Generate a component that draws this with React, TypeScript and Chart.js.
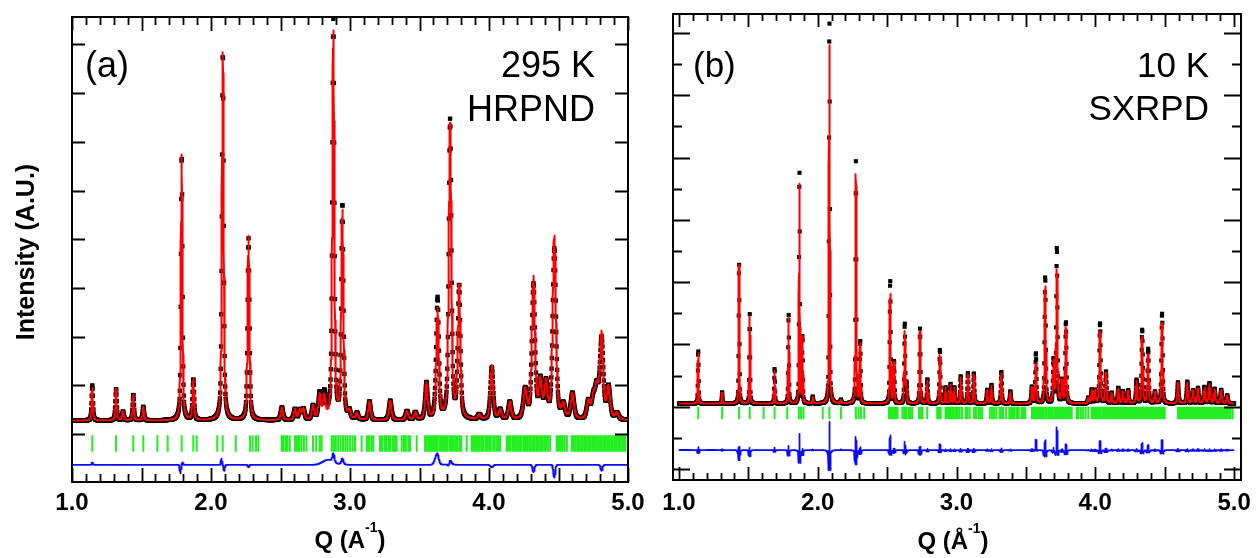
import React, { useEffect, useRef } from "react";
import { Chart, registerables } from "chart.js";

Chart.register(...registerables);

const FONT = '"Liberation Sans", Arial, Helvetica, sans-serif';

// x-axis tick labels (Q, 1/Å) shared by both panels
const X_LABELS = [1, 2, 3, 4, 5];

// ---------------- Panel (a): 295 K, HRPND ----------------
const A_PEAK_Q = [1.146, 1.317, 1.367, 1.441, 1.513, 1.789, 1.873, 2.085, 2.270, 2.510, 2.604, 2.640, 2.665, 2.734, 2.782, 2.815, 2.880, 2.945, 2.995, 3.050, 3.140, 3.290, 3.410, 3.470, 3.550, 3.630, 3.720, 3.785, 3.930, 4.020, 4.080, 4.150, 4.260, 4.320, 4.370, 4.410, 4.470, 4.535, 4.600, 4.715, 4.750, 4.775, 4.810, 4.860, 4.920];
const A_CALC_H = [0.67, 0.65, 0.18, 0.53, 0.28, 5.45, 0.83, 7.55, 3.78, 0.26, 0.22, 0.2, 0.22, 0.28, 0.5, 0.45, 7.95, 4.25, 0.15, 0.13, 0.38, 0.4, 0.18, 0.15, 0.75, 2.25, 6.05, 2.7, 0.1, 1.12, 0.2, 0.36, 0.6, 2.9, 0.75, 0.7, 3.75, 0.28, 0.53, 0.36, 0.38, 0.6, 1.75, 0.65, 0.13];
const A_OBS_H = [0.67, 0.65, 0.18, 0.53, 0.28, 5.45, 0.83, 7.55, 3.78, 0.26, 0.22, 0.2, 0.22, 0.28, 0.5, 0.45, 8.13, 4.38, 0.15, 0.13, 0.38, 0.4, 0.18, 0.15, 0.75, 2.38, 6.15, 2.7, 0.1, 1.12, 0.2, 0.36, 0.6, 2.9, 0.75, 0.7, 3.75, 0.28, 0.53, 0.36, 0.38, 0.6, 1.75, 0.65, 0.13];
const A_FWHM = [0.012, 0.012, 0.014, 0.012, 0.013, 0.013, 0.014, 0.015, 0.016, 0.02, 0.02, 0.02, 0.02, 0.02, 0.022, 0.022, 0.017, 0.018, 0.02, 0.02, 0.02, 0.022, 0.022, 0.022, 0.022, 0.022, 0.022, 0.022, 0.025, 0.024, 0.025, 0.025, 0.03, 0.026, 0.026, 0.026, 0.027, 0.028, 0.028, 0.028, 0.028, 0.03, 0.028, 0.028, 0.03];
const A_RES_Q = [1.146, 1.78, 1.795, 2.075, 2.095, 2.27, 2.84, 3.62, 3.71, 4.02, 4.32, 4.47, 4.81];
const A_RES_AMP = [0.05, -0.17, 0.05, 0.13, -0.12, -0.05, 0.1, 0.13, -0.06, -0.05, -0.15, -0.26, -0.12];
const A_RES_W = [0.01, 0.01, 0.01, 0.01, 0.01, 0.01, 0.09, 0.03, 0.015, 0.02, 0.015, 0.015, 0.015];
const A_REFL = [
  1.146, 1.317, 1.441, 1.513, 1.614, 1.688, 1.789, 1.873, 1.897, 2.045, 2.084, 2.178, 2.281, 2.300, 2.324, 2.341,
  2.509, 2.521, 2.537, 2.550, 2.567,
  2.604, 2.619, 2.633, 2.650, 2.668, 2.687,
  2.734, 2.757, 2.781, 2.796,
  2.868, 2.883, 2.898, 2.915, 2.932, 2.950, 2.967, 2.983, 3.001, 3.019, 3.036,
  3.084, 3.121, 3.136, 3.153, 3.168,
  3.216, 3.230, 3.247, 3.261, 3.277, 3.290, 3.307, 3.321, 3.336,
  3.372, 3.388, 3.402, 3.419, 3.432,
  3.480,
  3.540, 3.552, 3.567, 3.580, 3.593, 3.607, 3.621, 3.632, 3.648, 3.662, 3.675, 3.689, 3.701, 3.717, 3.731, 3.744, 3.759, 3.771, 3.787, 3.800,
  3.840,
  3.875, 3.889, 3.902, 3.916, 3.929, 3.944, 3.957, 3.973, 3.986, 4.001, 4.013, 4.030, 4.042, 4.058, 4.069, 4.080,
  4.127, 4.141, 4.152, 4.168, 4.180, 4.195, 4.207, 4.222, 4.233, 4.249, 4.262, 4.274, 4.289, 4.301, 4.316, 4.328, 4.343, 4.355, 4.370, 4.382, 4.397, 4.409, 4.424, 4.440,
  4.487, 4.501, 4.515, 4.529, 4.544, 4.560,
  4.595, 4.609, 4.621, 4.636, 4.648, 4.663, 4.675, 4.690, 4.702, 4.717, 4.729, 4.744, 4.756, 4.771, 4.783, 4.798, 4.810, 4.825, 4.837, 4.852, 4.864, 4.879, 4.891, 4.906, 4.918, 4.933, 4.945, 4.960, 4.972, 4.982,
];
const A_Y_TICKS = [1, 2, 3, 4, 5, 6, 7, 8, 9];

// ---------------- Panel (b): 10 K, SXRPD ----------------
const B_PEAK_Q = [1.139, 1.311, 1.433, 1.510, 1.689, 1.790, 1.868, 1.890, 1.964, 2.084, 2.167, 2.275, 2.306, 2.522, 2.550, 2.627, 2.640, 2.737, 2.790, 2.880, 2.921, 2.957, 2.985, 3.030, 3.082, 3.125, 3.221, 3.252, 3.323, 3.388, 3.543, 3.572, 3.639, 3.699, 3.723, 3.760, 3.788, 3.950, 3.974, 3.998, 4.034, 4.077, 4.118, 4.166, 4.200, 4.237, 4.297, 4.338, 4.381, 4.430, 4.481, 4.596, 4.663, 4.704, 4.740, 4.787, 4.823, 4.860, 4.907, 4.950];
const B_CALC_H = [1.62, 0.35, 4.45, 2.8, 1.05, 2.77, 7.03, 2.1, 0.2, 11.5, 0.1, 7.35, 1.9, 3.5, 1.3, 2.3, 0.6, 2.3, 0.74, 1.55, 0.5, 0.6, 0.5, 0.84, 0.93, 0.93, 0.42, 0.57, 0.97, 0.37, 0.5, 1.27, 3.75, 1.3, 4.27, 0.7, 2.42, 0.17, 0.42, 0.4, 2.29, 0.97, 0.32, 0.47, 0.37, 0.4, 0.71, 2.14, 1.57, 0.35, 2.58, 0.65, 0.67, 0.4, 0.47, 0.5, 0.62, 0.45, 0.42, 0.25];
const B_OBS_H = [1.71, 0.37, 4.55, 2.87, 1.13, 2.9, 7.55, 2.15, 0.22, 12.4, 0.12, 7.77, 2.0, 3.97, 1.35, 2.57, 0.62, 2.4, 0.78, 1.74, 0.52, 0.63, 0.52, 0.88, 0.97, 0.97, 0.44, 0.6, 1.02, 0.39, 0.53, 1.61, 4.07, 1.38, 5.0, 0.73, 2.61, 0.18, 0.44, 0.42, 2.58, 1.02, 0.34, 0.5, 0.39, 0.42, 0.75, 2.37, 1.74, 0.37, 2.9, 0.68, 0.7, 0.42, 0.5, 0.53, 0.65, 0.47, 0.44, 0.26];
const B_FWHM = [0.007, 0.007, 0.007, 0.007, 0.007, 0.007, 0.007, 0.007, 0.008, 0.008, 0.008, 0.008, 0.008, 0.009, 0.009, 0.009, 0.009, 0.009, 0.009, 0.009, 0.009, 0.009, 0.009, 0.01, 0.01, 0.01, 0.01, 0.01, 0.01, 0.01, 0.011, 0.011, 0.011, 0.011, 0.011, 0.011, 0.011, 0.011, 0.011, 0.011, 0.012, 0.012, 0.012, 0.012, 0.012, 0.012, 0.012, 0.012, 0.012, 0.012, 0.012, 0.013, 0.013, 0.013, 0.013, 0.013, 0.013, 0.013, 0.013, 0.013];
const B_RES_Q: number[] = [];
const B_RES_AMP: number[] = [];
const B_RES_W: number[] = [];
const B_REFL = [
  1.139, 1.311, 1.433, 1.510, 1.610, 1.689, 1.780, 1.864, 1.880, 1.897, 2.036, 2.084, 2.167, 2.275, 2.294, 2.311, 2.335,
  2.514, 2.527, 2.538, 2.552, 2.562, 2.575,
  2.610, 2.625, 2.637, 2.653, 2.667, 2.682,
  2.730, 2.741, 2.755, 2.789,
  2.861, 2.872, 2.886,
  2.921, 2.934, 2.945, 2.958, 2.969,
  2.981, 2.996, 3.008, 3.023, 3.040,
  3.066, 3.079, 3.095, 3.125, 3.140, 3.157, 3.171, 3.186,
  3.240, 3.256, 3.271, 3.287, 3.310, 3.322, 3.335, 3.358,
  3.380, 3.393, 3.407, 3.420, 3.436, 3.449, 3.469, 3.482, 3.496,
  3.544, 3.557, 3.571, 3.583, 3.597, 3.611, 3.624, 3.639, 3.651, 3.666, 3.680, 3.693, 3.708, 3.721, 3.735, 3.749, 3.762, 3.776, 3.790, 3.803, 3.817, 3.830,
  3.866, 3.880, 3.896, 3.912, 3.931, 3.950,
  3.974, 3.987, 4.001, 4.014, 4.028, 4.040, 4.055, 4.068, 4.082, 4.095, 4.109, 4.122, 4.136, 4.149, 4.163, 4.176, 4.190, 4.203, 4.217, 4.230, 4.244, 4.257, 4.271, 4.284, 4.298, 4.311, 4.325, 4.338, 4.352, 4.365, 4.379, 4.392, 4.406, 4.419, 4.433, 4.446, 4.460, 4.473, 4.487, 4.500,
  4.596, 4.609, 4.623, 4.636, 4.650, 4.663, 4.677, 4.690, 4.704, 4.717, 4.731, 4.744, 4.758, 4.771, 4.785, 4.798, 4.812, 4.825, 4.839, 4.852, 4.866, 4.879, 4.893, 4.906, 4.920, 4.933, 4.947, 4.960, 4.974, 4.990,
];
const B_Y_TICKS = [0, 1, 2, 3, 4, 5, 6, 7, 8, 9, 10, 11, 12, 13, 14];

type PanelSpec = {
  peakQ: number[]; calcH: number[]; obsH: number[]; fwhm: number[];
  resQ: number[]; resAmp: number[]; resW: number[]; refl: number[];
  eta: number; obsWidthRatio: number; bg: number; diffOffset: number;
  obsStep: number; calcStep: number; reflLo: number; reflHi: number; obsRadius: number;
};

const PANEL_A: PanelSpec = {
  peakQ: A_PEAK_Q, calcH: A_CALC_H, obsH: A_OBS_H, fwhm: A_FWHM,
  resQ: A_RES_Q, resAmp: A_RES_AMP, resW: A_RES_W, refl: A_REFL,
  eta: 0.5, obsWidthRatio: 1.0, bg: 1.28, diffOffset: 0.37,
  obsStep: 0.002, calcStep: 0.001, reflLo: 0.64, reflHi: 0.98, obsRadius: 3.1,
};
const PANEL_B: PanelSpec = {
  peakQ: B_PEAK_Q, calcH: B_CALC_H, obsH: B_OBS_H, fwhm: B_FWHM,
  resQ: B_RES_Q, resAmp: B_RES_AMP, resW: B_RES_W, refl: B_REFL,
  eta: 0.4, obsWidthRatio: 0.88, bg: 2.1, diffOffset: 0.61,
  obsStep: 0.0015, calcStep: 0.0005, reflLo: 1.6, reflHi: 2.0, obsRadius: 2.9,
};

function peakSum(q: number, pos: number[], h: number[], w: number[], eta: number, ws: number) {
  let s = 0;
  for (let i = 0; i < pos.length; i++) {
    const d = (q - pos[i]) / (w[i] * ws);
    if (Math.abs(d) > 80) continue;
    s += h[i] * (eta / (1 + 4 * d * d) + (1 - eta) * Math.exp(-4 * Math.LN2 * d * d));
  }
  return s;
}
function resSum(q: number, rq: number[], ra: number[], rw: number[]) {
  let s = 0;
  for (let i = 0; i < rq.length; i++) {
    const d = (q - rq[i]) / rw[i];
    s += ra[i] * Math.exp(-4 * Math.LN2 * d * d);
  }
  return s;
}

function buildDatasets(p: PanelSpec) {
  const obsVal = (q: number) =>
    p.bg + peakSum(q, p.peakQ, p.obsH, p.fwhm, p.eta, p.obsWidthRatio) + resSum(q, p.resQ, p.resAmp, p.resW);
  const calcVal = (q: number) => p.bg + peakSum(q, p.peakQ, p.calcH, p.fwhm, p.eta, 1);
  const obs: { x: number; y: number }[] = [];
  const nObs = Math.round(4 / p.obsStep);
  for (let i = 0; i <= nObs; i++) {
    const q = 1 + i * p.obsStep;
    obs.push({ x: q, y: obsVal(q) });
  }
  const calc: { x: number; y: number }[] = [];
  const diff: { x: number; y: number }[] = [];
  const nCalc = Math.round(4 / p.calcStep);
  for (let i = 0; i <= nCalc; i++) {
    const q = 1 + i * p.calcStep;
    const c = calcVal(q);
    calc.push({ x: q, y: c });
    diff.push({ x: q, y: p.diffOffset + obsVal(q) - c });
  }
  const refl: { x: number; y: number | null }[] = [];
  p.refl.forEach((q) => {
    refl.push({ x: q, y: p.reflLo });
    refl.push({ x: q, y: p.reflHi });
    refl.push({ x: q, y: null });
  });
  return [
    { label: "Calculated", data: calc, showLine: true, borderColor: "#ff0000", borderWidth: 2, pointRadius: 0, borderJoinStyle: "round", order: 0 },
    { label: "Bragg positions", data: refl, showLine: true, spanGaps: false, borderColor: "#22ee22", borderWidth: 2, pointRadius: 0, order: 1 },
    { label: "Difference", data: diff, showLine: true, borderColor: "#0a0aff", borderWidth: 1.8, pointRadius: 0, borderJoinStyle: "round", order: 2 },
    { label: "Observed", data: obs, showLine: false, pointStyle: "rect", pointRadius: p.obsRadius, pointBackgroundColor: "#000", backgroundColor: "#000", pointBorderWidth: 0, borderWidth: 0, order: 3 },
  ];
}

type FrameCfg = { yTicks: number[]; yLen: (v: number) => number; xMinor: number; xMajor: number };

function framePlugin(cfg: FrameCfg) {
  return {
    id: "frame",
    afterDraw(chart: any) {
      const { ctx, chartArea: a, scales } = chart;
      const xs = scales.x;
      const ys = scales.y;
      ctx.save();
      ctx.strokeStyle = "#000";
      ctx.lineWidth = 1.8;
      ctx.beginPath();
      for (let i = 10; i <= 50; i++) {
        const px = Math.round(xs.getPixelForValue(i / 10)) + 0.5;
        const len = i % 5 === 0 ? cfg.xMajor : cfg.xMinor;
        ctx.moveTo(px, a.bottom);
        ctx.lineTo(px, a.bottom - len);
        ctx.moveTo(px, a.top);
        ctx.lineTo(px, a.top + len);
      }
      cfg.yTicks.forEach((v) => {
        const py = Math.round(ys.getPixelForValue(v)) + 0.5;
        const len = cfg.yLen(v);
        ctx.moveTo(a.left, py);
        ctx.lineTo(a.left + len, py);
        ctx.moveTo(a.right, py);
        ctx.lineTo(a.right - len, py);
      });
      ctx.stroke();
      ctx.lineWidth = 2;
      ctx.strokeRect(a.left, a.top, a.right - a.left, a.bottom - a.top);
      ctx.restore();
    },
  };
}

type PanelProps = {
  spec: PanelSpec; left: number; width: number;
  pad: { left: number; right: number; top: number };
  axisHeight: number; labelPad: number;
  xMin: number; xMax: number; yMin: number; yMax: number;
  frame: FrameCfg;
};

function Panel(props: PanelProps) {
  const ref = useRef<HTMLCanvasElement>(null);
  useEffect(() => {
    const canvas = ref.current;
    if (!canvas) return;
    const chart = new Chart(canvas, {
      type: "scatter",
      data: { datasets: buildDatasets(props.spec) as any },
      options: {
        responsive: false,
        animation: false,
        events: [],
        layout: { padding: { left: props.pad.left, right: props.pad.right, top: props.pad.top, bottom: 0 } },
        plugins: { legend: { display: false }, tooltip: { enabled: false }, title: { display: false } },
        scales: {
          x: {
            type: "linear",
            min: props.xMin,
            max: props.xMax,
            afterBuildTicks: (s: any) => {
              s.ticks = X_LABELS.map((v) => ({ value: v }));
            },
            afterFit: (s: any) => {
              s.height = props.axisHeight;
              s.paddingLeft = 0;
              s.paddingRight = 0;
            },
            grid: { display: false, drawTicks: false },
            border: { display: false },
            ticks: {
              autoSkip: false,
              maxRotation: 0,
              minRotation: 0,
              padding: props.labelPad,
              color: "#000",
              font: { family: FONT, size: 24, weight: "bold" },
              callback: (v: any) => Number(v).toFixed(1),
            },
          },
          y: { type: "linear", display: false, min: props.yMin, max: props.yMax },
        },
      } as any,
      plugins: [framePlugin(props.frame)],
    });
    return () => chart.destroy();
  }, []);
  return (
    <canvas
      ref={ref}
      width={props.width}
      height={558}
      style={{ position: "absolute", left: props.left, top: 0, width: props.width, height: 558 }}
    />
  );
}

const textBase: React.CSSProperties = {
  position: "absolute",
  fontFamily: FONT,
  color: "#000",
  lineHeight: 1,
  whiteSpace: "nowrap",
};

export default function App() {
  return (
    <div style={{ position: "absolute", left: 0, top: 0, width: 1258, height: 558, overflow: "hidden", background: "#fff" }}>
      <Panel
        spec={PANEL_A}
        left={0}
        width={650}
        pad={{ left: 72, right: 22, top: 17 }}
        axisHeight={76}
        labelPad={7}
        xMin={1.0}
        xMax={5.0}
        yMin={0.02}
        yMax={9.56}
        frame={{ yTicks: A_Y_TICKS, yLen: () => 13, xMinor: 8, xMajor: 14 }}
      />
      <Panel
        spec={PANEL_B}
        left={650}
        width={608}
        pad={{ left: 23, right: 17, top: 14 }}
        axisHeight={78}
        labelPad={9}
        xMin={0.957}
        xMax={5.05}
        yMin={-0.353}
        yMax={14.61}
        frame={{ yTicks: B_Y_TICKS, yLen: (v) => (v % 2 === 0 ? 17 : 9), xMinor: 7, xMajor: 13 }}
      />

      {/* y-axis title */}
      <div
        style={{
          ...textBase,
          left: 25 - 150,
          top: 252 - 15,
          width: 300,
          height: 30,
          lineHeight: "30px",
          textAlign: "center",
          fontWeight: "bold",
          fontSize: 25,
          transform: "rotate(-90deg)",
        }}
      >
        Intensity (A.U.)
      </div>

      {/* x-axis titles */}
      <div style={{ ...textBase, left: 350 - 100, top: 528, width: 200, textAlign: "center", fontWeight: "bold", fontSize: 24 }}>
        Q (A<span style={{ position: "relative", top: -16, fontSize: 14 }}>-1</span>)
      </div>
      <div style={{ ...textBase, left: 953 - 100, top: 529, width: 200, textAlign: "center", fontWeight: "bold", fontSize: 24 }}>
        Q (Å<span style={{ position: "relative", top: -16, fontSize: 14 }}>-1</span>)
      </div>

      {/* panel annotations */}
      <div style={{ ...textBase, left: 85, top: 47, fontSize: 36 }}>(a)</div>
      <div style={{ ...textBase, left: 395, top: 47, width: 200, textAlign: "right", fontSize: 36 }}>295 K</div>
      <div style={{ ...textBase, left: 395, top: 91, width: 200, textAlign: "right", fontSize: 36 }}>HRPND</div>

      <div style={{ ...textBase, left: 693, top: 47, fontSize: 35 }}>(b)</div>
      <div style={{ ...textBase, left: 1009, top: 47, width: 200, textAlign: "right", fontSize: 35 }}>10 K</div>
      <div style={{ ...textBase, left: 1009, top: 90, width: 200, textAlign: "right", fontSize: 35 }}>SXRPD</div>
    </div>
  );
}
